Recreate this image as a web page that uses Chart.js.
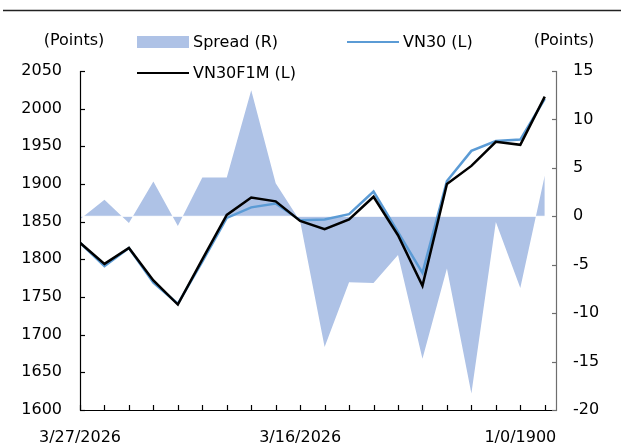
<!DOCTYPE html>
<html>
<head>
<meta charset="utf-8">
<script src="https://cdn.jsdelivr.net/npm/chart.js@4"></script>
<style>
html,body{margin:0;padding:0;background:#fff;}
#wrap{width:621px;height:448px;position:relative;}
</style>
</head>
<body>
<div id="wrap"><canvas id="c" width="621" height="448"></canvas></div>
<script>
// ---- data ----
const categories = ["3/27/2026","3/26/2026","3/25/2026","3/24/2026","3/23/2026","3/20/2026","3/19/2026","3/18/2026","3/17/2026","3/16/2026","3/13/2026","3/12/2026","3/11/2026","3/10/2026","3/9/2026","3/6/2026","3/5/2026","3/4/2026","1/0/1900","1/0/1900"];
const spread  = [-0.3, 1.7, -0.7, 3.6, -1.0, 4.0, 4.0, 13.0, 3.4, -0.5, -13.5, -6.8, -6.9, -4.0, -14.7, -5.4, -18.3, -0.6, -7.4, 4.2];
const vn30    = [1822, 1791, 1815, 1769, 1741, 1797, 1855, 1869, 1874, 1852, 1853, 1860, 1890, 1836, 1782, 1904, 1944, 1957, 1959, 2013];
const vn30f1m = [1822, 1794, 1815, 1772, 1740, 1800, 1859, 1882, 1877, 1851, 1840, 1853, 1883, 1832, 1765, 1900, 1924, 1956, 1952, 2016];
const labelEvery = 9;
const leftTitle = "(Points)";
const rightTitle = "(Points)";
const seriesNames = ["Spread (R)", "VN30 (L)", "VN30F1M (L)"];

const FONT = '"DejaVu Sans", sans-serif';
const pts = arr => arr.map((v, i) => ({x: i, y: v}));

const deco = {
  id: 'deco',
  afterDatasetDraw(chart, args) {
    if (args.index !== 0) return;
    const ctx = chart.ctx, a = chart.chartArea;
    const y0 = chart.scales.y2.getPixelForValue(0);
    ctx.save();
    ctx.strokeStyle = '#ffffff';
    ctx.lineWidth = 1;
    ctx.beginPath();
    ctx.moveTo(a.left, y0); ctx.lineTo(a.right, y0);
    ctx.stroke();
    ctx.restore();
  },
  afterDraw(chart) {
    const ctx = chart.ctx, a = chart.chartArea;
    const sx = chart.scales.x, sy = chart.scales.y, sy2 = chart.scales.y2;
    ctx.save();
    // top rule
    ctx.strokeStyle = '#222';
    ctx.lineWidth = 1.5;
    ctx.beginPath(); ctx.moveTo(3, 10.5); ctx.lineTo(621, 10.5); ctx.stroke();
    // axes
    ctx.lineWidth = 1.2;
    ctx.strokeStyle = '#000';
    ctx.beginPath();
    ctx.moveTo(a.left + 0.5, a.top); ctx.lineTo(a.left + 0.5, a.bottom + 0.5);
    ctx.lineTo(a.right, a.bottom + 0.5);
    ctx.stroke();
    sy.ticks.forEach(t => {
      const y = Math.round(sy.getPixelForValue(t.value)) + 0.5;
      ctx.beginPath(); ctx.moveTo(a.left, y); ctx.lineTo(a.left + 5, y); ctx.stroke();
    });
    sx.ticks.forEach(t => {
      const x = Math.round(sx.getPixelForValue(t.value)) + 0.5;
      ctx.beginPath(); ctx.moveTo(x, a.bottom); ctx.lineTo(x, a.bottom - 5); ctx.stroke();
    });
    ctx.strokeStyle = '#6e6e6e';
    ctx.beginPath(); ctx.moveTo(a.right - 0.5, a.top); ctx.lineTo(a.right - 0.5, a.bottom + 1); ctx.stroke();
    sy2.ticks.forEach(t => {
      const y = Math.round(sy2.getPixelForValue(t.value)) + 0.5;
      ctx.beginPath(); ctx.moveTo(a.right, y); ctx.lineTo(a.right - 5, y); ctx.stroke();
    });
    // axis titles
    ctx.fillStyle = '#000';
    ctx.font = '16px ' + FONT;
    ctx.textBaseline = 'middle';
    ctx.textAlign = 'center';
    ctx.fillText(leftTitle, 74, 41);
    ctx.fillText(rightTitle, 564, 41);
    // legend
    ctx.textAlign = 'left';
    const ds = chart.data.datasets;
    const items = [
      {d: ds[0], x: 137, y: 42, box: true},
      {d: ds[1], x: 347, y: 42},
      {d: ds[2], x: 137, y: 73}
    ];
    items.forEach(it => {
      if (it.box) {
        ctx.fillStyle = it.d.backgroundColor;
        ctx.fillRect(it.x, it.y - 6, 52, 12);
      } else {
        ctx.strokeStyle = it.d.borderColor;
        ctx.lineWidth = 2.2;
        ctx.beginPath(); ctx.moveTo(it.x, it.y); ctx.lineTo(it.x + 52, it.y); ctx.stroke();
      }
      ctx.fillStyle = '#000';
      ctx.fillText(it.d.label, it.x + 56, it.y + 1);
    });
    ctx.restore();
  }
};

new Chart(document.getElementById('c'), {
  type: 'line',
  data: {
    datasets: [
      {label: seriesNames[0], data: pts(spread), yAxisID: 'y2', fill: 'origin',
       backgroundColor: '#aec2e6', borderColor: 'rgba(0,0,0,0)', borderWidth: 0,
       pointRadius: 0, tension: 0, order: 3},
      {label: seriesNames[1], data: pts(vn30), yAxisID: 'y', fill: false,
       borderColor: '#5b9bd5', backgroundColor: '#5b9bd5', borderWidth: 2.5,
       pointRadius: 0, tension: 0, order: 2},
      {label: seriesNames[2], data: pts(vn30f1m), yAxisID: 'y', fill: false,
       borderColor: '#000000', backgroundColor: '#000000', borderWidth: 2.5,
       pointRadius: 0, tension: 0, order: 1}
    ]
  },
  options: {
    responsive: false,
    animation: false,
    devicePixelRatio: 1,
    layout: {padding: {top: 71, left: 0, right: 0, bottom: 0}},
    plugins: {legend: {display: false}, tooltip: {enabled: false}},
    scales: {
      x: {
        type: 'linear', min: 0, max: 19.5,
        grid: {display: false, drawTicks: false}, border: {display: false},
        afterBuildTicks: s => { s.ticks = categories.map((c, i) => ({value: i})); },
        afterFit: s => { s.height = 38; },
        ticks: {
          autoSkip: false, maxRotation: 0, padding: 18, color: '#000',
          font: {family: FONT, size: 16},
          callback: v => (v % labelEvery === 0 ? categories[v] : '')
        }
      },
      y: {
        position: 'left', min: 1600, max: 2050,
        grid: {display: false, drawTicks: false}, border: {display: false},
        afterFit: s => { s.width = 80; },
        ticks: {stepSize: 50, padding: 18, color: '#000', font: {family: FONT, size: 16},
                callback: v => String(v)}
      },
      y2: {
        position: 'right', min: -20, max: 15,
        grid: {display: false, drawTicks: false}, border: {display: false},
        afterFit: s => { s.width = 64; },
        ticks: {stepSize: 5, padding: 16, color: '#000', font: {family: FONT, size: 16},
                callback: v => String(v)}
      }
    }
  },
  plugins: [deco]
});
</script>
</body>
</html>
